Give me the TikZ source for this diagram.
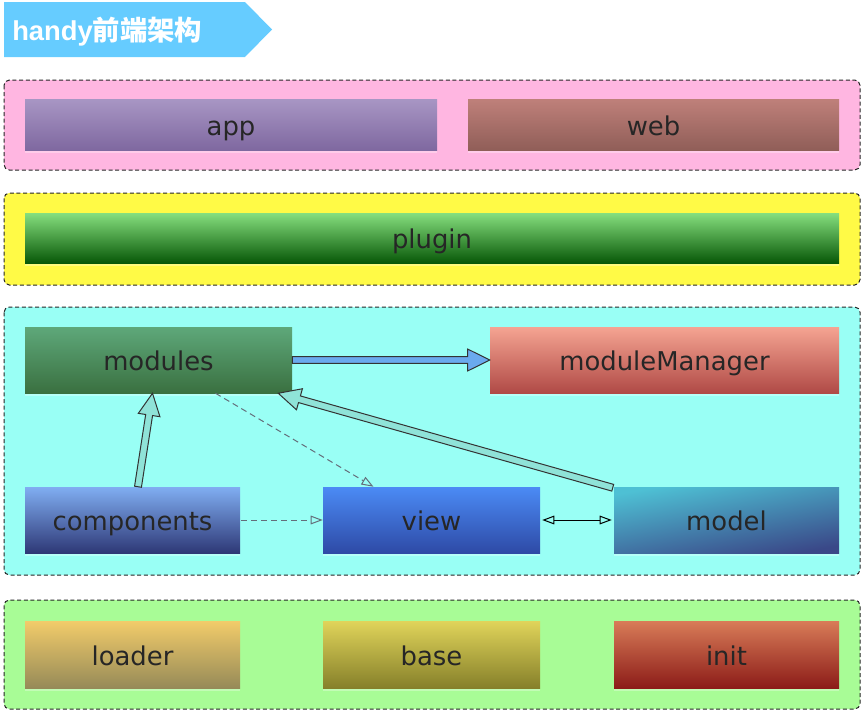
\documentclass[tikz,border=0pt]{standalone}
\usepackage{fontspec}
\setmainfont{DejaVu Sans}
\newfontfamily\titlefont{Liberation Sans}
\newfontfamily\cjk{Noto Sans CJK SC}
\usetikzlibrary{arrows.meta, calc, shadows}

\definecolor{banner}{RGB}{102,204,255}
\definecolor{pinkL}{RGB}{255,182,225}
\definecolor{yellowL}{RGB}{255,250,70}
\definecolor{cyanL}{RGB}{153,255,245}
\definecolor{greenL}{RGB}{168,252,150}
\definecolor{appT}{RGB}{168,150,196}   \definecolor{appB}{RGB}{127,104,160}
\definecolor{webT}{RGB}{191,128,122}   \definecolor{webB}{RGB}{144,94,88}
\definecolor{plugT}{RGB}{134,223,126}  \definecolor{plugB}{RGB}{8,88,8}
\definecolor{modT}{RGB}{94,168,122}    \definecolor{modB}{RGB}{58,112,64}
\definecolor{mmT}{RGB}{245,164,146}    \definecolor{mmB}{RGB}{176,74,70}
\definecolor{compT}{RGB}{128,174,242}  \definecolor{compB}{RGB}{46,56,118}
\definecolor{viewT}{RGB}{75,139,245}   \definecolor{viewB}{RGB}{46,74,166}
\definecolor{modelT}{RGB}{78,192,212}  \definecolor{modelB}{RGB}{58,72,136}
\definecolor{loadT}{RGB}{242,204,106}  \definecolor{loadB}{RGB}{150,138,88}
\definecolor{baseT}{RGB}{224,212,90}   \definecolor{baseB}{RGB}{134,128,42}
\definecolor{initT}{RGB}{216,124,88}   \definecolor{initB}{RGB}{140,28,24}
\definecolor{fatblue}{RGB}{106,170,238}
\definecolor{fatteal}{RGB}{143,227,216}
\definecolor{depgray}{RGB}{100,110,122}

\tikzset{
  layer/.style={draw=black!85, dash pattern=on 3pt off 2pt, line width=0.75pt, rounded corners=4pt},
  modbox/.style 2 args={shape=rectangle, minimum width={#1*0.75pt}, minimum height={#2*0.75pt},
    inner sep=0pt, text height=16pt, text depth=0pt, text=black!85,
    font=\fontsize{19.4}{23}\selectfont,
    general shadow={shadow yshift=-2pt, fill=white, opacity=0.3}},
  fatline/.style={draw=black!80, line width=0.75pt, line join=miter},
  dep/.style={draw=depgray, dash pattern=on 4.5pt off 3pt, line width=0.75pt,
    -{Triangle[open, length=9pt, width=6.5pt]}},
  link/.style={draw=black, line width=0.75pt,
    {Triangle[open, length=9pt, width=6.5pt]}-{Triangle[open, length=9pt, width=6.5pt]}}
}

% block arrow from #1 to #2, filled with #3
\newcommand{\fatarrow}[3]{%
  \path[fatline, fill=#3] let \p1=($(#2)-(#1)$), \n1={atan2(\y1,\x1)}, \n2={veclen(\x1,\y1)} in
    [shift={(#1)}, rotate=\n1]
    (0pt,-2.6pt) -- (\n2-16.5pt,-2.6pt) -- (\n2-16.5pt,-8.2pt) -- (\n2,0pt)
    -- (\n2-16.5pt,8.2pt) -- (\n2-16.5pt,2.6pt) -- (0pt,2.6pt) -- cycle;
}

\begin{document}
\begin{tikzpicture}[x=0.75pt, y=-0.75pt]
\useasboundingbox (0,0) rectangle (865,714);

              % title
\path[fill=banner] (4,2) -- (245,2) -- (272,29.5) -- (245,57) -- (4,57) -- cycle;
\node[anchor=base west, inner sep=0pt, text=white, font=\fontsize{20.5}{24}\selectfont\bfseries] at (12,40)
(title) {{\titlefont handy}{\cjk 前端架构}};

              % layers
\path[layer, fill=pinkL]   (4,80)  rectangle (860,170);
\path[layer, fill=yellowL] (4,193) rectangle (860,285);
\path[layer, fill=cyanL]   (4,307) rectangle (860,575);
\path[layer, fill=greenL]  (4,600) rectangle (860,709);

              % app layer
\node[modbox={412}{51}, top color=appT, bottom color=appB] at (231,124.5)
(app) {app};
\node[modbox={371}{51}, top color=webT, bottom color=webB] at (653.5,124.5)
(web) {web};

              % plugin layer
\node[modbox={814}{50}, top color=plugT, bottom color=plugB] at (432,238)
(plugin) {plugin};

              % core layer
\node[modbox={267}{66}, top color=modT, bottom color=modB] at (158.5,360)
(modules) {modules};
\node[modbox={349}{66}, top color=mmT, bottom color=mmB] at (664.5,360)
(manager) {moduleManager};
\node[modbox={215}{66}, top color=compT, bottom color=compB] at (132.5,520)
(components) {components};
\node[modbox={217}{66}, top color=viewT, bottom color=viewB] at (431.5,520)
(view) {view};
\node[modbox={225}{66}, top color=modelT, bottom color=modelB, shading angle=10] at (726.5,520)
(model) {model};

              % base layer
\node[modbox={215}{67}, top color=loadT, bottom color=loadB] at (132.5,654.5)
(loader) {loader};
\node[modbox={217}{67}, top color=baseT, bottom color=baseB] at (431.5,654.5)
(base) {base};
\node[modbox={225}{67}, top color=initT, bottom color=initB] at (726.5,654.5)
(init) {init};

              % connectors
\coordinate (compTail) at ($(components.north)+(5.5,0)$);
\coordinate (modHead1) at ($(modules.south)+(-6,0)$);
\coordinate (modelTail) at ($(model.north west)+(-1,1)$);
\coordinate (modHead2) at ($(modules.south east)+(-14,0)$);
\coordinate (modOut) at ($(modules.south)+(57,0)$);
\coordinate (viewIn) at ($(view.north)+(-58,0)$);

\fatarrow{modules.east}{manager.west}{fatblue}
\fatarrow{compTail}{modHead1}{fatteal}
\fatarrow{modelTail}{modHead2}{fatteal}

\draw[dep]
  (modOut) -- (viewIn)
;
\draw[dep]
  ($(components.east)+(1,0)$) -- (view.west)
;
\draw[link]
  ($(view.east)+(2,0)$) -- ($(model.west)+(-2,0)$)
;
\end{tikzpicture}
\end{document}
